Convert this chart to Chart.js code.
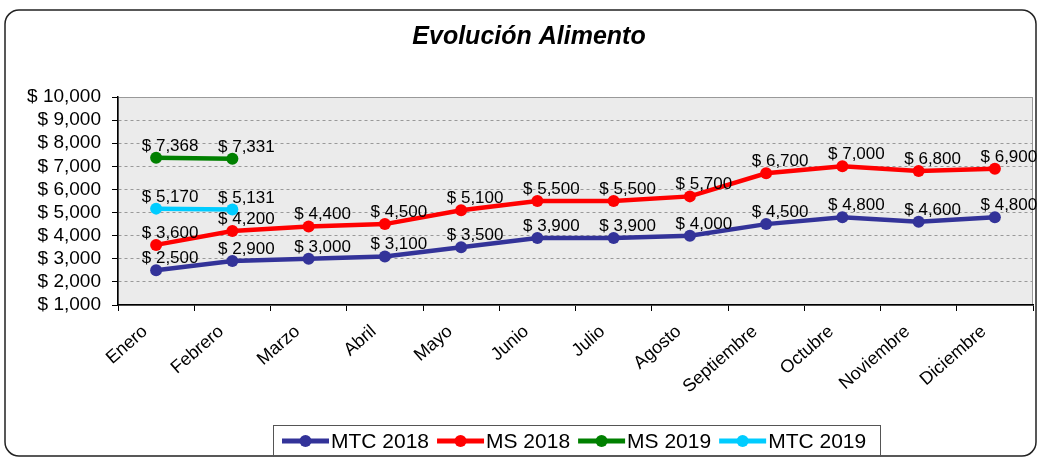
<!DOCTYPE html>
<html>
<head>
<meta charset="utf-8">
<script src="https://cdn.jsdelivr.net/npm/chart.js@4/dist/chart.umd.min.js"></script>
<style>
  html, body { margin: 0; padding: 0; background: #fff; }
  #wrap { position: relative; width: 1039px; height: 457px; }
</style>
</head>
<body>
<div id="wrap"><canvas id="grafico" width="1039" height="457"></canvas></div>
<script>
// datos
const meses = ['Enero', 'Febrero', 'Marzo', 'Abril', 'Mayo', 'Junio', 'Julio', 'Agosto', 'Septiembre', 'Octubre', 'Noviembre', 'Diciembre'];
const mtc2018 = [2500, 2900, 3000, 3100, 3500, 3900, 3900, 4000, 4500, 4800, 4600, 4800];
const ms2018 = [3600, 4200, 4400, 4500, 5100, 5500, 5500, 5700, 6700, 7000, 6800, 6900];
const ms2019 = [7368, 7331, null, null, null, null, null, null, null, null, null, null];
const mtc2019 = [5170, 5131, null, null, null, null, null, null, null, null, null, null];
const yMin = 1000, yMax = 10000, yPaso = 1000;
const titulo = 'Evolución Alimento';

const fuente = 'Arial, "Liberation Sans", sans-serif';
const dinero = v => '$ ' + Number(v).toLocaleString('en-US');

function serie(label, data, color) {
    return {
        label: label,
        data: data,
        borderColor: color,
        backgroundColor: color,
        borderWidth: 4.5,
        pointRadius: 6,
        pointHoverRadius: 6,
        pointBorderWidth: 0,
        tension: 0,
        spanGaps: false
    };
}

// marco, titulo y fondo del area de trazado
const fondo = {
    id: 'fondo',
    beforeDraw(chart) {
        const c = chart.ctx, a = chart.chartArea;
        c.save();
        c.strokeStyle = '#222';
        c.lineWidth = 1.5;
        c.beginPath();
        c.roundRect(5, 10, 1031, 446, 14);
        c.stroke();
        c.fillStyle = '#000';
        c.font = 'italic bold 25px ' + fuente;
        c.textAlign = 'center';
        c.textBaseline = 'middle';
        c.fillText(titulo, 529, 37);
        c.fillStyle = '#ebebeb';
        c.fillRect(a.left, a.top, a.right - a.left, a.bottom - a.top);
        c.strokeStyle = '#9a9a9a';
        c.lineWidth = 1;
        c.strokeRect(a.left + 0.5, a.top + 0.5, a.right - a.left - 1, a.bottom - a.top);
        c.restore();
    }
};

// etiquetas de valores
const etiquetas = {
    id: 'etiquetas',
    afterDatasetsDraw(chart) {
        const c = chart.ctx;
        c.save();
        c.font = '17px ' + fuente;
        c.fillStyle = '#000';
        c.textAlign = 'center';
        c.textBaseline = 'alphabetic';
        chart.data.datasets.forEach((ds, i) => {
            chart.getDatasetMeta(i).data.forEach((p, j) => {
                const v = ds.data[j];
                if (v === null || v === undefined) return;
                c.fillText(dinero(v), p.x + 14, p.y - 7);
            });
        });
        c.restore();
    }
};

// leyenda con recuadro
const leyenda = {
    id: 'leyenda',
    afterDraw(chart) {
        const c = chart.ctx;
        c.save();
        c.strokeStyle = '#555';
        c.lineWidth = 1;
        c.strokeRect(273.5, 425.5, 607, 40);
        c.font = '21px ' + fuente;
        c.textBaseline = 'middle';
        let x = 282;
        const y = 441;
        chart.data.datasets.forEach(ds => {
            c.strokeStyle = ds.borderColor;
            c.lineWidth = 5;
            c.beginPath();
            c.moveTo(x, y);
            c.lineTo(x + 47, y);
            c.stroke();
            c.fillStyle = ds.borderColor;
            c.beginPath();
            c.arc(x + 23.5, y, 6, 0, Math.PI * 2);
            c.fill();
            c.fillStyle = '#000';
            c.fillText(ds.label, x + 49, y + 1);
            x += c.measureText(ds.label).width + 49 + 8;
        });
        c.restore();
    }
};

new Chart(document.getElementById('grafico'), {
    type: 'line',
    data: {
        labels: meses,
        datasets: [
            serie('MTC 2018', mtc2018, '#333399'),
            serie('MS 2018', ms2018, '#ff0000'),
            serie('MS 2019', ms2019, '#008000'),
            serie('MTC 2019', mtc2019, '#00ccff')
        ]
    },
    options: {
        responsive: false,
        animation: false,
        layout: { padding: { left: 0, right: 1, top: 97, bottom: 0 } },
        plugins: {
            legend: { display: false },
            tooltip: { enabled: false },
            title: { display: false }
        },
        scales: {
            x: {
                offset: true,
                grid: { offset: true, drawOnChartArea: false, tickLength: 6, tickColor: '#000' },
                border: { color: '#000', width: 1.5 },
                ticks: {
                    color: '#000',
                    font: { family: fuente, size: 18 },
                    minRotation: 41,
                    maxRotation: 41,
                    autoSkip: false,
                    padding: 10,
                    labelOffset: -11
                },
                afterFit(s) { s.height = 152; }
            },
            y: {
                min: yMin,
                max: yMax,
                grid: {
                    color: '#999',
                    tickBorderDash: [],
                    tickColor: '#000',
                    tickLength: 6
                },
                border: { color: '#000', width: 1.5, dash: [3, 3] },
                ticks: {
                    stepSize: yPaso,
                    autoSkip: false,
                    color: '#000',
                    font: { family: fuente, size: 19 },
                    padding: 11,
                    callback: v => dinero(v)
                },
                afterFit(s) { s.width = 118; }
            }
        }
    },
    plugins: [fondo, etiquetas, leyenda]
});
</script>
</body>
</html>
